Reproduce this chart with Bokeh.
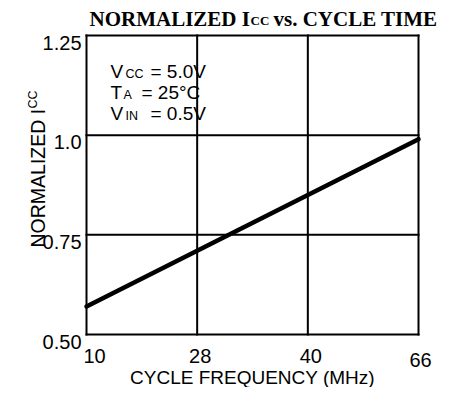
import math
from bokeh.plotting import figure
from bokeh.models import Label, Range1d
from bokeh.core.properties import value
from bokeh.embed import file_html
from bokeh.resources import INLINE

# ---- data ----
freq_labels = ["10", "28", "40", "66"]          # cycle frequency (MHz), evenly spaced on chart
icc_norm = [0.57, 0.71, 0.85, 0.99]             # normalized Icc at each frequency
y_ticks = [0.50, 0.75, 1.0, 1.25]
y_tick_labels = ["0.50", "0.75", "1.0", "1.25"]

x_idx = list(range(len(freq_labels)))

# ---- layout (pixels, figure coordinates) ----
W, H = 444, 387
PX_L, PX_R, PX_T, PX_B = 86, 418, 35, 334       # plot-box edges on the canvas
x_lab_dx = [8, 3, 3, 2]                         # small label nudges (px)
x_lab_dy = [21, 21, 21, 25]

SANS = "Liberation Sans"
SERIF = "Liberation Serif"

x0, x1 = x_idx[0], x_idx[-1]
y0, y1 = y_ticks[0], y_ticks[-1]
xpp = (x1 - x0) / (PX_R - PX_L)
ypp = (y1 - y0) / (PX_B - PX_T)

p = figure(width=W, height=H, output_backend="svg", toolbar_location=None, title=None,
           x_axis_type=None, y_axis_type=None,
           x_range=Range1d(x0 - PX_L * xpp, x1 + (W - PX_R) * xpp),
           y_range=Range1d(y0 - (H - PX_B) * ypp, y1 + PX_T * ypp),
           min_border=0, min_border_left=0, min_border_right=0,
           min_border_top=0, min_border_bottom=0)
p.outline_line_color = None
p.background_fill_color = "white"
p.border_fill_color = "white"
p.xgrid.visible = False
p.ygrid.visible = False

# grid + plot box
p.segment(x0=x_idx, y0=[y0] * len(x_idx), x1=x_idx, y1=[y1] * len(x_idx),
          line_color="black", line_width=2, line_cap="square")
p.segment(x0=[x0] * len(y_ticks), y0=y_ticks, x1=[x1] * len(y_ticks), y1=y_ticks,
          line_color="black", line_width=2, line_cap="square")

# curve
p.line(x_idx, icc_norm, line_width=4.5, line_color="black", line_cap="round")

# tick labels
p.text(x=[x0] * len(y_ticks), y=y_ticks, text=y_tick_labels,
       text_font=value(SANS), text_font_size=value("20px"), text_color="black",
       text_align="right", text_baseline="alphabetic", x_offset=-5, y_offset=7)
p.text(x=x_idx, y=[y0] * len(x_idx), text=freq_labels,
       text_font=value(SANS), text_font_size=value("20px"), text_color="black",
       text_align="center", text_baseline="alphabetic",
       x_offset=x_lab_dx, y_offset=x_lab_dy)

def lab(text, x, y, size, font=SANS, style="normal", angle=0.0, align="left"):
    p.add_layout(Label(x=x, y=H - y, x_units="screen", y_units="screen", text=text,
                       text_font=font, text_font_size=size, text_font_style=style,
                       text_color="black", text_baseline="alphabetic", text_align=align,
                       angle=angle))

# title with subscript (y = baseline row from top)
lab("NORMALIZED I", 89, 18, "21px", SERIF, "bold")
lab("CC", 250, 20, "13px", SERIF, "bold")
lab("vs. CYCLE TIME", 273, 18, "21px", SERIF, "bold")

# x-axis title
lab("CYCLE FREQUENCY (MHz)", 252, 377, "19px", align="center")

# y-axis title (rotated)
lab("NORMALIZED I", 37, 247, "19.5px", angle=math.pi / 2)
lab("CC", 32, 108, "12.5px", angle=math.pi / 2)

# conditions
lab("V", 110, 71, "19px")
lab("CC", 125, 73, "12.5px")
lab("= 5.0V", 150, 71, "19px")
lab("T", 110, 92, "19px")
lab("A", 123, 94, "12.5px")
lab("= 25°C", 141, 92, "19px")
lab("V", 110, 113, "19px")
lab("IN", 125, 115, "12.5px")
lab("= 0.5V", 150, 113, "19px")

open("out.html", "w").write(file_html(p, INLINE))
